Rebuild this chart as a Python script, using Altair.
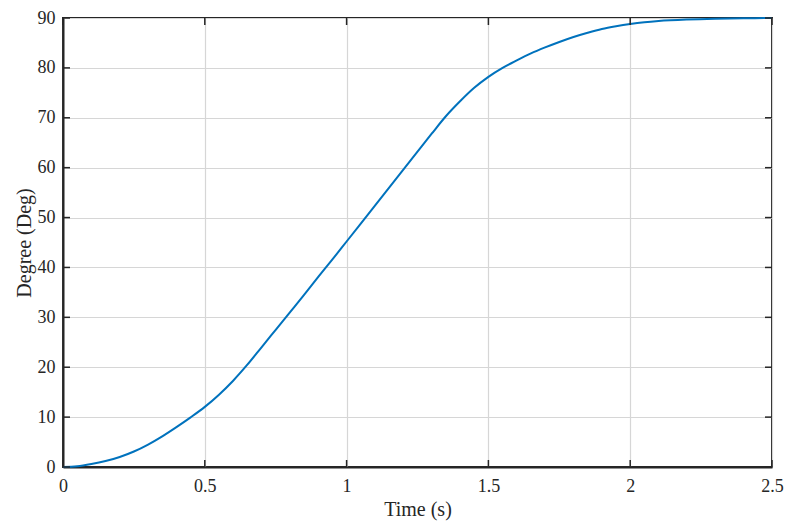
import altair as alt
import pandas as pd

time_s = [0, 0.05, 0.1, 0.15, 0.2, 0.25, 0.3, 0.35, 0.4, 0.45, 0.5, 0.55, 0.6, 0.65,
          0.7, 0.75, 0.8, 0.85, 0.9, 0.95, 1.0, 1.05, 1.1, 1.15, 1.2, 1.25, 1.3, 1.35,
          1.4, 1.45, 1.5, 1.55, 1.6, 1.65, 1.7, 1.75, 1.8, 1.85, 1.9, 1.95, 2.0, 2.05,
          2.1, 2.2, 2.3, 2.4, 2.5]
degree_deg = [0, 0.15, 0.6, 1.2, 2.0, 3.1, 4.5, 6.15, 8.0, 9.95, 12.05, 14.5, 17.3, 20.5,
              24.0, 27.5, 31.0, 34.5, 38.1, 41.6, 45.2, 48.8, 52.4, 56.0, 59.6, 63.2, 66.8, 70.3,
              73.3, 76.0, 78.2, 80.0, 81.5, 82.9, 84.1, 85.2, 86.2, 87.05, 87.8, 88.35, 88.8, 89.15,
              89.4, 89.7, 89.87, 89.95, 90.0]

x_ticks = [0, 0.5, 1, 1.5, 2, 2.5]
y_ticks = [0, 10, 20, 30, 40, 50, 60, 70, 80, 90]

W, H = 709, 449
FONT = "Liberation Serif"
AX = "#262626"

df = pd.DataFrame({"t": time_s, "deg": degree_deg})
xt = pd.DataFrame({"t": x_ticks})
yt = pd.DataFrame({"deg": y_ticks})

xscale = alt.Scale(domain=[0, 2.5], nice=False, zero=False)
yscale = alt.Scale(domain=[0, 90], nice=False, zero=False)

line = alt.Chart(df).mark_line(color="#0072BD", strokeWidth=2, interpolate="monotone").encode(
    x=alt.X("t:Q", scale=xscale,
            axis=alt.Axis(title="Time (s)", values=x_ticks, format="~g", grid=True,
                          ticks=False, labelFlush=False, labelPadding=10, titlePadding=4)),
    y=alt.Y("deg:Q", scale=yscale,
            axis=alt.Axis(title="Degree (Deg)", values=y_ticks, grid=True,
                          ticks=False, labelFlush=False, labelPadding=8, titlePadding=3)),
)

xt_bottom = alt.Chart(xt).mark_rule(color=AX, strokeWidth=1.5).encode(
    x=alt.X("t:Q", scale=xscale), y=alt.value(H), y2=alt.value(H - 7))
xt_top = alt.Chart(xt).mark_rule(color=AX, strokeWidth=1.5).encode(
    x=alt.X("t:Q", scale=xscale), y=alt.value(0), y2=alt.value(7))
yt_left = alt.Chart(yt).mark_rule(color=AX, strokeWidth=1.5).encode(
    y=alt.Y("deg:Q", scale=yscale), x=alt.value(0), x2=alt.value(7))
yt_right = alt.Chart(yt).mark_rule(color=AX, strokeWidth=1.5).encode(
    y=alt.Y("deg:Q", scale=yscale), x=alt.value(W), x2=alt.value(W - 7))

chart = alt.layer(line, xt_bottom, xt_top, yt_left, yt_right).properties(
    width=W, height=H,
    autosize=alt.AutoSizeParams(type="none"),
    padding={"left": 55, "top": 10, "right": 15, "bottom": 62},
).configure_view(
    stroke=AX, strokeWidth=2
).configure_axis(
    labelFont=FONT, titleFont=FONT, labelFontSize=18, titleFontSize=20,
    labelColor=AX, titleColor=AX, titleFontWeight="normal",
    domainColor=AX, domainWidth=2,
    gridColor="#d6d6d6", gridWidth=1.2,
)

chart.save("out.html", embed_options={"renderer": "svg", "actions": False})
